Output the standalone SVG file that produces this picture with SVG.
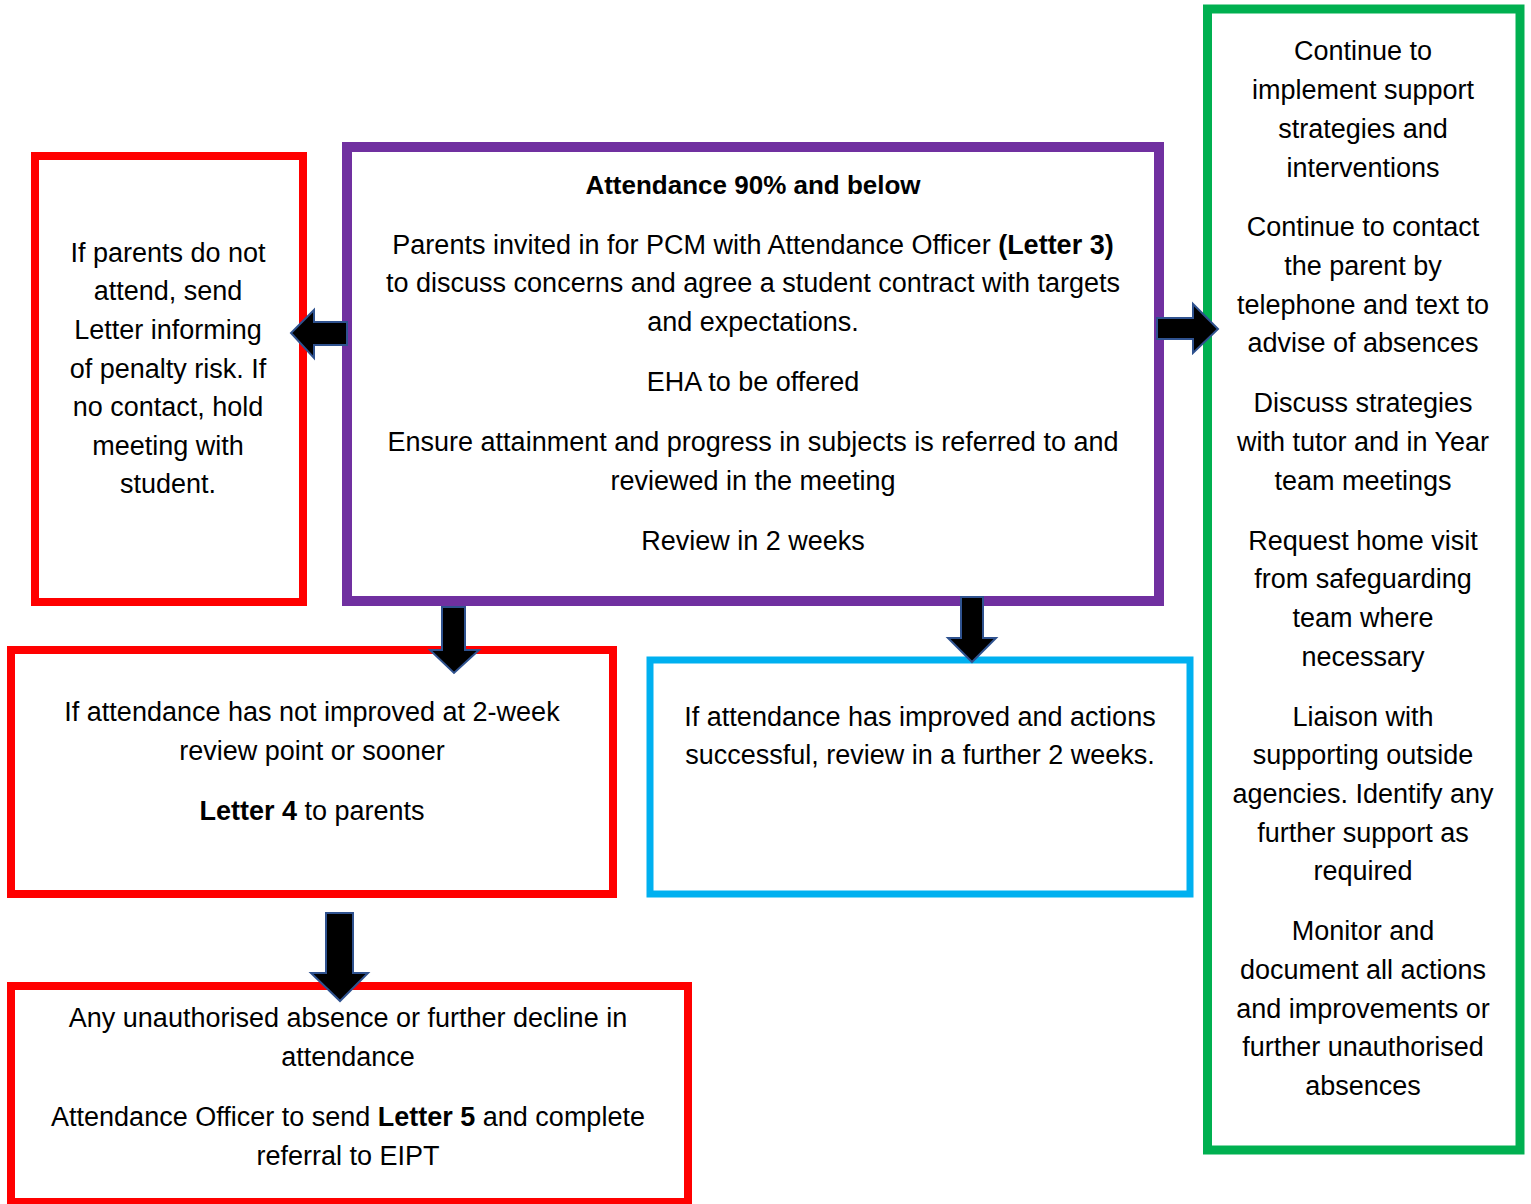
<svg xmlns="http://www.w3.org/2000/svg" width="1531" height="1204" viewBox="0 0 1531 1204">
<style>
.box{fill:#fff;}
.t{font-family:"Liberation Sans",Arial,sans-serif;font-size:27px;fill:#000;text-anchor:middle;}
.b{font-weight:bold;}
.arr{fill:#000;stroke:#2F528F;stroke-width:2;stroke-linejoin:miter;}
</style>
<rect width="1531" height="1204" fill="#fff"/>
<g id="node-left">
<rect class="box" x="35" y="156" width="268" height="446" stroke="#FF0000" stroke-width="8"/>
<text class="t" x="168" y="262">If parents do not</text>
<text class="t" x="168" y="300">attend, send</text>
<text class="t" x="168" y="339">Letter informing</text>
<text class="t" x="168" y="378">of penalty risk. If</text>
<text class="t" x="168" y="416">no contact, hold</text>
<text class="t" x="168" y="455">meeting with</text>
<text class="t" x="168" y="493">student.</text>
</g>
<g id="node-main">
<rect class="box" x="347" y="147" width="812" height="454" stroke="#7030A0" stroke-width="10"/>
<text class="t b" x="753" y="194" style="font-size:26px">Attendance 90% and below</text>
<text class="t" x="753" y="254">Parents invited in for PCM with Attendance Officer <tspan class="b">(Letter 3)</tspan></text>
<text class="t" x="753" y="292">to discuss concerns and agree a student contract with targets</text>
<text class="t" x="753" y="331">and expectations.</text>
<text class="t" x="753" y="391">EHA to be offered</text>
<text class="t" x="753" y="451">Ensure attainment and progress in subjects is referred to and</text>
<text class="t" x="753" y="490">reviewed in the meeting</text>
<text class="t" x="753" y="550">Review in 2 weeks</text>
</g>
<g id="node-right">
<rect class="box" x="1207.5" y="9" width="312.5" height="1141" stroke="#00B050" stroke-width="9"/>
<text class="t" x="1363" y="60">Continue to</text>
<text class="t" x="1363" y="99">implement support</text>
<text class="t" x="1363" y="138">strategies and</text>
<text class="t" x="1363" y="177">interventions</text>
<text class="t" x="1363" y="236">Continue to contact</text>
<text class="t" x="1363" y="275">the parent by</text>
<text class="t" x="1363" y="314">telephone and text to</text>
<text class="t" x="1363" y="352">advise of absences</text>
<text class="t" x="1363" y="412">Discuss strategies</text>
<text class="t" x="1363" y="451">with tutor and in Year</text>
<text class="t" x="1363" y="490">team meetings</text>
<text class="t" x="1363" y="550">Request home visit</text>
<text class="t" x="1363" y="588">from safeguarding</text>
<text class="t" x="1363" y="627">team where</text>
<text class="t" x="1363" y="666">necessary</text>
<text class="t" x="1363" y="726">Liaison with</text>
<text class="t" x="1363" y="764">supporting outside</text>
<text class="t" x="1363" y="803">agencies. Identify any</text>
<text class="t" x="1363" y="842">further support as</text>
<text class="t" x="1363" y="880">required</text>
<text class="t" x="1363" y="940">Monitor and</text>
<text class="t" x="1363" y="979">document all actions</text>
<text class="t" x="1363" y="1018">and improvements or</text>
<text class="t" x="1363" y="1056">further unauthorised</text>
<text class="t" x="1363" y="1095">absences</text>
</g>
<g id="node-not-improved">
<rect class="box" x="11" y="650" width="602" height="244" stroke="#FF0000" stroke-width="8"/>
<text class="t" x="312" y="721">If attendance has not improved at 2-week</text>
<text class="t" x="312" y="760">review point or sooner</text>
<text class="t" x="312" y="820"><tspan class="b">Letter 4</tspan> to parents</text>
</g>
<g id="node-improved">
<rect class="box" x="650" y="660" width="540" height="234" stroke="#00B0F0" stroke-width="7"/>
<text class="t" x="920" y="726">If attendance has improved and actions</text>
<text class="t" x="920" y="764">successful, review in a further 2 weeks.</text>
</g>
<g id="node-letter5">
<rect class="box" x="11" y="986" width="677" height="216" stroke="#FF0000" stroke-width="8"/>
<text class="t" x="348" y="1027">Any unauthorised absence or further decline in</text>
<text class="t" x="348" y="1066">attendance</text>
<text class="t" x="348" y="1126">Attendance Officer to send <tspan class="b">Letter 5</tspan> and complete</text>
<text class="t" x="348" y="1165">referral to EIPT</text>
</g>
<g id="connectors">
<path class="arr" d="M347,322 L314,322 L314,310 L291,333 L314,358 L314,345 L347,345 Z"/>
<path class="arr" d="M1157,318 L1193,318 L1193,304 L1218,329 L1193,353 L1193,339 L1157,339 Z"/>
<path class="arr" d="M442,607 L465,607 L465,650 L479,650 L454,673 L430,650 L442,650 Z"/>
<path class="arr" d="M961,597 L983,597 L983,638 L996,638 L972,662 L948,638 L961,638 Z"/>
<path class="arr" d="M326,913 L353,913 L353,973 L368,973 L340,1001 L311,973 L326,973 Z"/>
</g>
</svg>
